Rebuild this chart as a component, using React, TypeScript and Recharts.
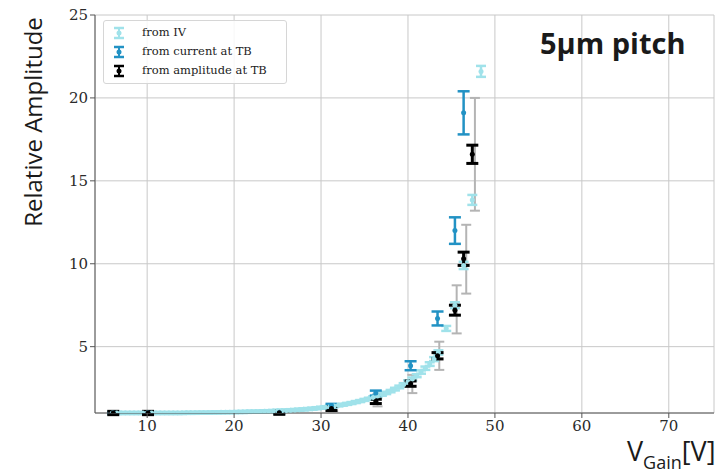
import React from "react";
import {
  ScatterChart,
  Scatter,
  ErrorBar,
  XAxis,
  YAxis,
  CartesianGrid,
} from "recharts";

// from IV (dense scan)
const ivX = [
  6, 6.5, 7, 7.5, 8, 8.5, 9, 9.5, 10, 10.5, 11, 11.5, 12, 12.5, 13, 13.5, 14, 14.5, 15, 15.5,
  16, 16.5, 17, 17.5, 18, 18.5, 19, 19.5, 20, 20.5, 21, 21.5, 22, 22.5, 23, 23.5, 24, 24.5, 25,
  25.5, 26, 26.5, 27, 27.5, 28, 28.5, 29, 29.5, 30, 30.5, 31, 31.5, 32, 32.5, 33, 33.5, 34, 34.5,
  35, 35.5, 36, 36.5, 37, 37.5, 38, 38.5, 39, 39.5, 40, 40.5, 41, 41.5, 42, 42.5, 43, 43.5, 44.4,
  45.4, 46.4, 47.4, 48.4,
];
const ivY = [
  1.0, 1.0, 1.0, 1.0, 1.0, 1.0, 1.0, 1.0, 1.0, 1.0, 1.0, 1.0, 1.0, 1.0, 1.0, 1.0, 1.0, 1.01, 1.01,
  1.01, 1.02, 1.02, 1.02, 1.03, 1.03, 1.04, 1.04, 1.05, 1.05, 1.06, 1.06, 1.07, 1.08, 1.08, 1.09,
  1.1, 1.11, 1.12, 1.13, 1.14, 1.15, 1.17, 1.18, 1.2, 1.22, 1.24, 1.26, 1.29, 1.32, 1.35, 1.38,
  1.42, 1.46, 1.5, 1.55, 1.6, 1.66, 1.72, 1.79, 1.86, 1.94, 2.02, 2.11, 2.21, 2.32, 2.44, 2.57,
  2.72, 2.88, 3.05, 3.25, 3.47, 3.7, 3.95, 4.25, 4.65, 6.1, 7.5, 9.9, 13.85, 21.6,
];
const ivErr = [
  0.06, 0.06, 0.06, 0.06, 0.06, 0.06, 0.06, 0.06, 0.06, 0.06, 0.06, 0.06, 0.06, 0.06, 0.06, 0.06,
  0.06, 0.06, 0.06, 0.06, 0.06, 0.06, 0.06, 0.06, 0.06, 0.06, 0.06, 0.06, 0.06, 0.06, 0.06, 0.06,
  0.06, 0.06, 0.06, 0.06, 0.06, 0.06, 0.06, 0.06, 0.06, 0.06, 0.06, 0.06, 0.06, 0.06, 0.06, 0.06,
  0.06, 0.06, 0.06, 0.06, 0.06, 0.06, 0.06, 0.06, 0.06, 0.06, 0.06, 0.06, 0.07, 0.07, 0.07, 0.07,
  0.07, 0.08, 0.08, 0.08, 0.09, 0.09, 0.09, 0.1, 0.1, 0.11, 0.12, 0.13, 0.15, 0.18, 0.22, 0.3, 0.33,
];

// from current at TB
const curX = [6.1, 10.1, 25.2, 31.2, 36.3, 40.3, 43.4, 45.4, 46.4];
const curY = [1.0, 1.0, 1.02, 1.45, 2.2, 3.85, 6.7, 12.0, 19.1];
const curErr = [0.05, 0.05, 0.05, 0.1, 0.15, 0.27, 0.42, 0.8, 1.3];

// from amplitude at TB
const ampX = [6.1, 10.1, 25.2, 31.2, 36.3, 40.3, 43.4, 45.4, 46.4, 47.4];
const ampY = [1.0, 1.0, 1.02, 1.27, 1.7, 2.77, 4.45, 7.2, 10.3, 16.6];
const ampErr = [0.1, 0.1, 0.1, 0.12, 0.13, 0.16, 0.19, 0.3, 0.4, 0.55];

// systematic band of amplitude at TB (grey)
const sysX = [31.4, 36.5, 40.5, 43.6, 45.6, 46.7, 47.7];
const sysLow = [1.1, 1.4, 2.2, 3.6, 5.8, 8.2, 13.2];
const sysHigh = [1.5, 2.15, 3.3, 5.3, 8.7, 12.35, 20.0];

const xTicks = [10, 20, 30, 40, 50, 60, 70];
const yTicks = [5, 10, 15, 20, 25];

const COL_IV = "#a0e2ea";
const COL_CUR = "#2292c4";
const COL_AMP = "#000000";
const COL_SYS = "#b4b4b4";

const ivData = ivX.map((x, i) => ({ x, y: ivY[i], err: ivErr[i] }));
const curData = curX.map((x, i) => ({ x, y: curY[i], err: curErr[i] }));
const ampData = ampX.map((x, i) => ({ x, y: ampY[i], err: ampErr[i] }));
const sysData = sysX.map((x, i) => {
  const mid = (sysLow[i] + sysHigh[i]) / 2;
  return { x, y: mid, err: [mid - sysLow[i], sysHigh[i] - mid] };
});

const dot = (color: string, r: number) => (props: any) =>
  <circle cx={props.cx} cy={props.cy} r={r} fill={color} />;
const noDot = () => <g />;

const serif = "'DejaVu Serif', serif";
const sans = "'Open Sans', 'Noto Sans', sans-serif";

function LegendIcon({ color, y }: { color: string; y: number }) {
  return (
    <svg width={14} height={14} style={{ position: "absolute", left: 8, top: y }}>
      <line x1={7} y1={2} x2={7} y2={12} stroke={color} strokeWidth={2} />
      <line x1={2} y1={2} x2={12} y2={2} stroke={color} strokeWidth={2.5} />
      <line x1={2} y1={12} x2={12} y2={12} stroke={color} strokeWidth={2.5} />
      <circle cx={7} cy={7} r={2.5} fill={color} />
    </svg>
  );
}

function LegendBox() {
  const items = [
    { label: "from IV", color: COL_IV },
    { label: "from current at TB", color: COL_CUR },
    { label: "from amplitude at TB", color: COL_AMP },
  ];
  return (
    <div
      style={{
        position: "absolute",
        left: 103,
        top: 20,
        width: 182,
        height: 62,
        background: "rgba(255,255,255,0.85)",
        border: "1px solid #d6d6d6",
        borderRadius: 3,
        fontFamily: serif,
        fontSize: 11.5,
        color: "#222",
      }}
    >
      {items.map((it, i) => (
        <React.Fragment key={it.label}>
          <LegendIcon color={it.color} y={5 + i * 19} />
          <div style={{ position: "absolute", left: 38, top: 4 + i * 19, whiteSpace: "nowrap" }}>
            {it.label}
          </div>
        </React.Fragment>
      ))}
    </div>
  );
}

export default function App() {
  return (
    <div style={{ position: "absolute", left: 0, top: 0, width: 715, height: 474, background: "#fff", overflow: "hidden" }}>
      <ScatterChart width={715} height={474} margin={{ top: 15, right: 1, bottom: 31, left: 0 }}>
        <CartesianGrid stroke="#c8c8c8" strokeWidth={1} />
        <XAxis
          type="number"
          dataKey="x"
          domain={[4, 75.2]}
          ticks={xTicks}
          allowDataOverflow
          height={30}
          stroke="#555"
          tickSize={5}
          tick={{ fontFamily: serif, fontSize: 15, fill: "#2a2a2a" }}
        />
        <YAxis
          type="number"
          dataKey="y"
          domain={[1, 25]}
          ticks={yTicks}
          allowDataOverflow
          width={95}
          stroke="#555"
          tickSize={5}
          tick={{ fontFamily: serif, fontSize: 15, fill: "#2a2a2a" }}
        />
        <XAxis xAxisId="top" orientation="top" type="number" domain={[4, 75.2]} ticks={[]} height={0} stroke="#555" />
        <YAxis yAxisId="right" orientation="right" type="number" domain={[1, 25]} ticks={[]} width={0} stroke="#555" />
        <Scatter data={sysData} shape={noDot} isAnimationActive={false}>
          <ErrorBar dataKey="err" direction="y" width={5} stroke={COL_SYS} strokeWidth={2} />
        </Scatter>
        <Scatter data={ivData} shape={dot(COL_IV, 2.5)} isAnimationActive={false}>
          <ErrorBar dataKey="err" direction="y" width={5} stroke={COL_IV} strokeWidth={2.5} />
        </Scatter>
        <Scatter data={curData} shape={dot(COL_CUR, 2.5)} isAnimationActive={false}>
          <ErrorBar dataKey="err" direction="y" width={6} stroke={COL_CUR} strokeWidth={2.5} />
        </Scatter>
        <Scatter data={ampData} shape={dot(COL_AMP, 2.5)} isAnimationActive={false}>
          <ErrorBar dataKey="err" direction="y" width={6} stroke={COL_AMP} strokeWidth={3} />
        </Scatter>
      </ScatterChart>
      <LegendBox />
      <div
        style={{
          position: "absolute",
          left: 540,
          top: 23,
          fontFamily: sans,
          fontWeight: 700,
          fontSize: 29,
          color: "#1a1a1a",
          whiteSpace: "nowrap",
        }}
      >
        5µm pitch
      </div>
      <div
        style={{
          position: "absolute",
          left: 32,
          top: 122,
          transform: "translate(-50%, -50%) rotate(-90deg)",
          fontFamily: sans,
          fontSize: 24,
          color: "#1a1a1a",
          whiteSpace: "nowrap",
        }}
      >
        Relative Amplitude
      </div>
      <div
        style={{
          position: "absolute",
          left: 627,
          top: 432,
          fontFamily: sans,
          fontSize: 27,
          color: "#1a1a1a",
          whiteSpace: "nowrap",
        }}
      >
        V<sub style={{ fontSize: 18, verticalAlign: "-8px" }}>Gain</sub>[V]
      </div>
    </div>
  );
}
